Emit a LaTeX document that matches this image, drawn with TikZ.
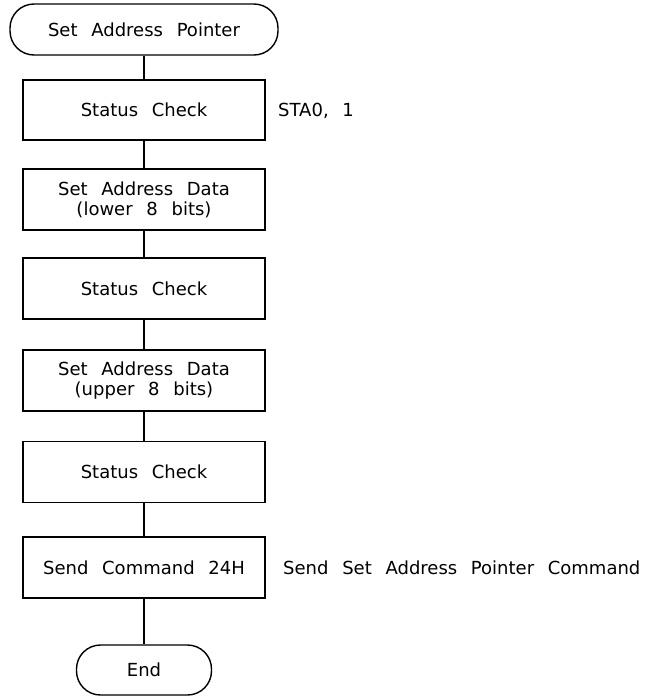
\documentclass[tikz,border=0pt]{standalone}
\usepackage{fontspec}
\setmainfont[WordSpace=2.4]{DejaVu Sans}
\begin{document}
\begin{tikzpicture}[x=1pt,y=1pt,
  every node/.style={font=\fontsize{18}{20}\selectfont},
  proc/.style={draw,line width=1.4pt,minimum width=242pt,minimum height=61pt,inner sep=0pt,align=center},
  term/.style={draw,line width=1.4pt,rounded corners=24pt,minimum height=51pt,inner sep=0pt,align=center},
  note/.style={anchor=west,inner sep=0pt},
  link/.style={line width=1.4pt}]
\useasboundingbox (0,0) rectangle (647,-696);
\node[term,minimum width=268pt] (start) at (144,-29.5) {Set Address Pointer};
\node[proc,minimum height=60pt] (b1) at (144,-110) {Status Check};
\node[proc] (b2) at (144,-199.5) {Set Address Data\\(lower 8 bits)};
\node[proc] (b3) at (144,-288.5) {Status Check};
\node[proc] (b4) at (144,-380.5) {Set Address Data\\(upper 8 bits)};
\node[proc] (b5) at (144,-472) {Status Check};
\node[proc] (b6) at (144,-567.5) {Send Command 24H};
\node[term,minimum width=135pt,minimum height=50pt] (end) at (144,-670) {End};
\node[note] (n1) at (278,-111) {STA0, 1};
\node[note] (n2) at (283,-567.5) {Send Set Address Pointer Command};
\draw[link] (start) -- (b1);
\draw[link] (b1) -- (b2);
\draw[link] (b2) -- (b3);
\draw[link] (b3) -- (b4);
\draw[link] (b4) -- (b5);
\draw[link] (b5) -- (b6);
\draw[link] (b6) -- (end);
\end{tikzpicture}
\end{document}
